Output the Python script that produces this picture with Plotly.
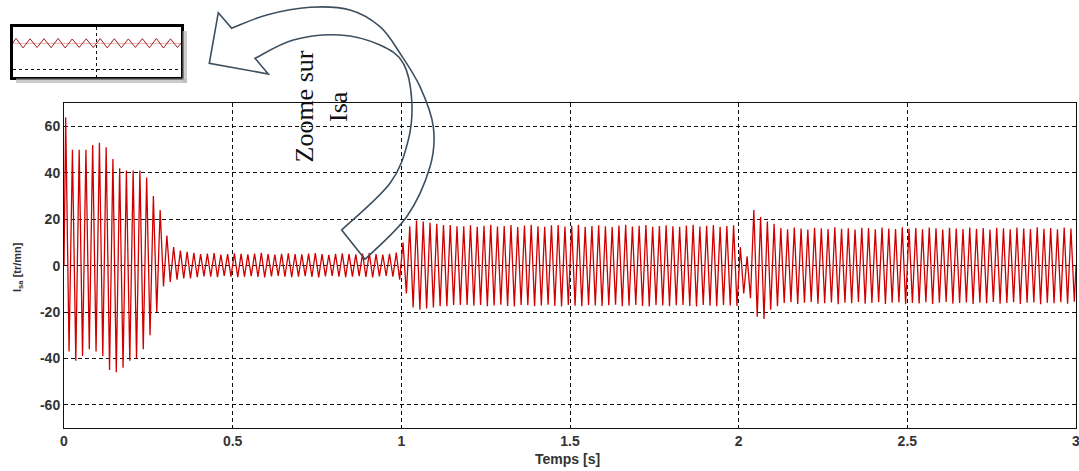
import plotly.graph_objects as go

# ---------------- data ----------------
# Isa extremes per 50 Hz cycle (one maximum and one minimum per 0.02 s cycle)
isa_max_start = [64, 50, 50, 50, 52, 53, 51, 46, 42, 41, 41, 41, 38, 30, 24, 13, 8, 6.5]
isa_min_start = [-37, -41, -39, -36, -37, -39, -45, -46, -44, -41, -40, -36, -30, -20, -9, -7, -6, -5.5]

isa_max_low = [6, 5.5, 5, 5.2, 5.4, 4.8, 5, 5.3, 5.1, 4.9,
               5.2, 5.5, 5, 4.8, 5.1, 5.3, 5, 4.9, 5.2, 5.4,
               5, 4.7, 5.1, 5.3, 5, 4.9, 5.2, 5.4, 5, 4.8,
               5.1, 5.6]
isa_min_low = [-5.5, -5, -4.6, -4.8, -5, -4.4, -4.7, -5, -4.8, -4.5,
               -4.9, -5.1, -4.6, -4.4, -4.8, -5, -4.7, -4.5, -4.9, -5.1,
               -4.6, -4.4, -4.8, -5, -4.7, -4.5, -4.9, -5.1, -4.6, -4.4,
               -4.8, -6]

isa_max_load = [10, 17, 19.5, 19, 18.5, 18, 17.5, 17.5, 17, 17,
                17.4, 16.8, 17.2, 17.6, 16.9, 17.1, 17.5, 16.7, 17.3, 17.6,
                17.0, 16.8, 17.4, 17.5, 16.9, 17.2, 17.6, 16.8, 17.1, 17.4,
                17.0, 16.7, 17.3, 17.6, 16.9, 17.2, 17.5, 16.8, 17.1, 17.4,
                17.0, 16.8, 17.3, 17.6, 16.9, 17.2, 17.5, 16.8, 17.1, 17.4]
isa_min_load = [-12, -18, -19, -18.5, -18, -17.5, -17.5, -17, -17, -17,
                -17.3, -16.9, -17.5, -17.2, -16.8, -17.4, -17.6, -16.9, -17.1, -17.5,
                -17.2, -16.8, -17.4, -17.6, -17.0, -17.3, -17.5, -16.9, -17.2, -17.4,
                -17.1, -16.8, -17.5, -17.3, -16.9, -17.4, -17.6, -17.0, -17.2, -17.5,
                -17.1, -16.9, -17.4, -17.6, -17.0, -17.3, -17.5, -16.9, -17.2, -17.4]

isa_max_dist = [8, 4, 24, 21, 19, 18]
isa_min_dist = [-12, -14, -22, -23, -19, -17.5]

isa_max_end = [16.2, 15.7, 16.4, 16.0, 15.6, 16.3, 16.1, 15.8, 16.5, 15.9,
               16.1, 15.6, 16.3, 16.2, 15.7, 16.4, 16.0, 15.8, 16.5, 16.0,
               16.2, 15.7, 16.4, 16.1, 15.6, 16.3, 16.0, 15.8, 16.4, 15.9,
               16.2, 15.6, 16.3, 16.1, 15.7, 16.4, 16.0, 15.8, 16.5, 15.9,
               16.2, 15.7, 16.4, 16.0]
isa_min_end = [-16.1, -15.8, -16.5, -16.0, -15.7, -16.4, -16.2, -15.9, -16.6, -16.0,
               -16.2, -15.7, -16.4, -16.1, -15.8, -16.5, -16.0, -15.9, -16.6, -16.1,
               -16.3, -15.8, -16.5, -16.0, -15.7, -16.4, -16.1, -15.9, -16.5, -16.0,
               -16.2, -15.7, -16.4, -16.1, -15.8, -16.5, -16.0, -15.9, -16.6, -16.0,
               -16.2, -15.8, -16.4, -15.6]

period = 0.02  # 50 Hz
x_ticks = [0, 0.5, 1, 1.5, 2, 2.5, 3]
x_tick_labels = ["0", "0.5", "1", "1.5", "2", "2.5", "3"]
y_ticks = [-60, -40, -20, 0, 20, 40, 60]
y_tick_labels = ["-60", "-40", "-20", "0", "20", "40", "60"]

isa_max = isa_max_start + isa_max_low + isa_max_load + isa_max_dist + isa_max_end
isa_min = isa_min_start + isa_min_low + isa_min_load + isa_min_dist + isa_min_end

t = [0.0]
isa = [0.0]
for k, (hi, lo) in enumerate(zip(isa_max, isa_min)):
    t.append(k * period + period / 4)
    isa.append(hi)
    t.append(k * period + 3 * period / 4)
    isa.append(lo)
t.append(3.0)
isa.append(0.0)

# ---------------- layout helpers ----------------
W, H = 1079, 471
ML, MR, MT, MB = 5, 3, 10, 43


def px(x):
    return (x - ML) / (W - ML - MR)


def py(y):
    return (H - MB - y) / (H - MT - MB)


def smooth(points):
    s = ""
    n = len(points)
    for i in range(n - 1):
        p0 = points[i - 1] if i > 0 else points[i]
        p1 = points[i]
        p2 = points[i + 1]
        p3 = points[i + 2] if i + 2 < n else points[i + 1]
        c1 = (p1[0] + (p2[0] - p0[0]) / 6, p1[1] + (p2[1] - p0[1]) / 6)
        c2 = (p2[0] - (p3[0] - p1[0]) / 6, p2[1] - (p3[1] - p1[1]) / 6)
        s += " C {:.5f},{:.5f} {:.5f},{:.5f} {:.5f},{:.5f}".format(
            px(c1[0]), py(c1[1]), px(c2[0]), py(c2[1]), px(p2[0]), py(p2[1]))
    return s


outer = [(231.7, 28.3), (266.7, 15), (310, 7.3), (350, 10), (380, 26.7), (400, 53.3),
         (420, 86.7), (433.3, 126.7), (430, 166.7), (406.7, 216.7), (365, 259.3)]
inner = [(341.7, 230), (390, 183.3), (408.3, 140), (411.7, 100), (403.3, 63.3),
         (380, 45), (340, 35), (293.3, 40), (255, 58.3)]
barb = (268.3, 74)
left_tip = (209.3, 63.3)
top_tip = (218.3, 12.7)

path = "M {:.5f},{:.5f}".format(px(top_tip[0]), py(top_tip[1]))
path += " L {:.5f},{:.5f}".format(px(outer[0][0]), py(outer[0][1]))
path += smooth(outer)
path += " L {:.5f},{:.5f}".format(px(inner[0][0]), py(inner[0][1]))
path += smooth(inner)
path += " L {:.5f},{:.5f}".format(px(barb[0]), py(barb[1]))
path += " L {:.5f},{:.5f}".format(px(left_tip[0]), py(left_tip[1]))
path += " Z"

fig = go.Figure()
fig.add_trace(go.Scatter(x=t, y=isa, mode="lines", line=dict(color="#d00000", width=1.3),
                         showlegend=False, hoverinfo="skip"))
fig.add_trace(go.Scatter(x=t, y=isa, mode="lines", line=dict(color="#a02020", width=1),
                         showlegend=False, hoverinfo="skip", xaxis="x2", yaxis="y2"))

tickfont = dict(family="Liberation Sans, Arial", size=14, color="#333333", weight="bold")

fig.update_layout(
    width=W, height=H,
    margin=dict(l=ML, r=MR, t=MT, b=MB),
    paper_bgcolor="white", plot_bgcolor="white",
    xaxis=dict(domain=[px(64), 1.0], range=[0, 3], tickvals=x_ticks, ticktext=x_tick_labels,
               showgrid=True, gridcolor="#111111", gridwidth=1, griddash="4px,3px",
               zeroline=False, showline=True, mirror=True, linecolor="#111111", linewidth=1,
               ticks="", tickfont=tickfont, automargin=False, ticklabeloverflow="allow"),
    yaxis=dict(domain=[0, py(103.3)], range=[-70, 70], tickvals=y_ticks, ticktext=y_tick_labels,
               showgrid=True, gridcolor="#111111", gridwidth=1, griddash="4px,3px",
               zeroline=False, showline=True, mirror=True, linecolor="#111111", linewidth=1,
               ticks="", tickfont=tickfont, automargin=False),
    xaxis2=dict(domain=[px(12.5), px(181)], range=[0.38, 0.62], anchor="y2",
                tickvals=[0.5], showticklabels=False, ticks="",
                showgrid=True, gridcolor="#111111", gridwidth=1, griddash="3px,3px",
                zeroline=False, showline=True, mirror=True, linecolor="#000000", linewidth=2.5),
    yaxis2=dict(domain=[py(77), py(27)], range=[-37, 18], anchor="x2",
                tickvals=[-28.5], showticklabels=False, ticks="",
                showgrid=True, gridcolor="#111111", gridwidth=1, griddash="3px,3px",
                zeroline=False, showline=True, mirror=True, linecolor="#000000", linewidth=2.5),
    shapes=[
        dict(type="line", xref="x2 domain", yref="y2", x0=0, x1=1, y0=0, y1=0,
             line=dict(color="#f0b0b0", width=1), layer="below"),
        dict(type="rect", xref="paper", yref="paper", x0=px(16), x1=px(187),
             y0=py(83), y1=py(78.5), fillcolor="#b8b8b8", line=dict(width=0), opacity=0.7),
        dict(type="rect", xref="paper", yref="paper", x0=px(182.5), x1=px(187),
             y0=py(83), y1=py(31), fillcolor="#b8b8b8", line=dict(width=0), opacity=0.7),
        dict(type="path", xref="paper", yref="paper", path=path,
             line=dict(color="#3d4f5f", width=1.6), fillcolor="rgba(0,0,0,0)"),
    ],
    annotations=[
        dict(text="Zoome sur", x=px(304), y=py(106.5), xref="paper", yref="paper",
             xanchor="center", yanchor="middle", showarrow=False, textangle=-90,
             font=dict(family="Liberation Serif, Times New Roman", size=26, color="#111111")),
        dict(text="Isa", x=px(338.5), y=py(106.5), xref="paper", yref="paper",
             xanchor="center", yanchor="middle", showarrow=False, textangle=-90,
             font=dict(family="Liberation Serif, Times New Roman", size=26, color="#111111")),
        dict(text="I<sub>sa</sub> [tr/mn]", x=px(18), y=py(267), xref="paper", yref="paper",
             xanchor="center", yanchor="middle", showarrow=False, textangle=-90,
             font=dict(family="Liberation Sans, Arial", size=11, color="#333333", weight="bold")),
        dict(text="Temps [s]", x=px(567), y=py(459), xref="paper", yref="paper",
             xanchor="center", yanchor="middle", showarrow=False,
             font=dict(family="Liberation Sans, Arial", size=14, color="#333333", weight="bold")),
    ],
)

fig.write_html("out.html", config={"displayModeBar": False},
               post_script="document.body.style.margin='0';document.body.style.overflow='hidden';")
